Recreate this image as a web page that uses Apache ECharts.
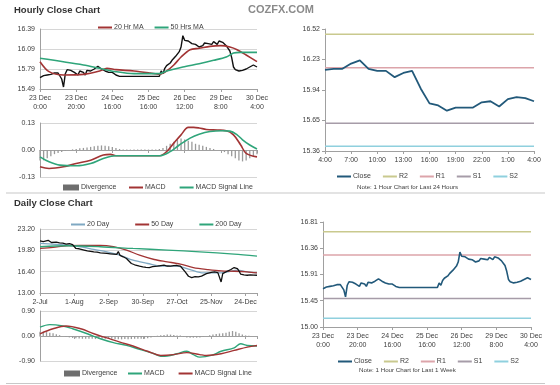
<!DOCTYPE html>
<html><head><meta charset="utf-8">
<script src="https://cdn.jsdelivr.net/npm/echarts@6/dist/echarts.min.js"></script>
<style>html,body{margin:0;padding:0;background:#fff}#c{width:560px;height:385px}</style>
</head><body><div id="c"></div>
<script>
// ---------- tick labels ----------
const hourTicks = ['23 Dec\n0:00','23 Dec\n20:00','24 Dec\n16:00','25 Dec\n16:00','26 Dec\n12:00','29 Dec\n8:00','30 Dec\n4:00'];
const dailyTicks = ['2-Jul','1-Aug','2-Sep','30-Sep','27-Oct','25-Nov','24-Dec'];
const last24Ticks = ['4:00','7:00','10:00','13:00','16:00','19:00','22:00','1:00','4:00'];

// ---------- hourly close (one value per hour, last week) ----------
const hourlyClose = [15.66,15.68,15.69,15.68,15.70,15.69,15.71,15.72,15.73,15.71,
 15.73,15.70,15.64,15.52,15.72,15.78,15.79,15.77,15.76,15.74,
 15.72,15.70,15.76,15.79,15.74,15.70,15.77,15.76,15.76,15.77,
 15.79,15.81,15.83,15.81,15.79,15.77,15.76,15.77,15.74,15.73,
 15.74,15.72,15.70,15.68,15.68,15.68,15.68,15.68,15.68,15.68,
 15.68,15.68,15.68,15.68,15.68,15.68,15.68,15.68,15.68,15.68,
 15.68,15.68,15.68,15.68,15.68,15.68,15.68,15.76,15.72,15.80,
 15.84,15.87,15.88,15.92,15.95,15.98,16.00,16.05,16.12,16.29,
 16.22,16.20,16.21,16.18,16.17,16.15,16.16,16.13,16.12,16.15,
 16.14,16.18,16.19,16.17,16.14,16.16,16.20,16.19,16.16,16.21,
 16.22,16.19,16.17,16.14,16.10,16.06,15.96,15.82,15.78,15.75,
 15.76,15.75,15.77,15.76,15.79,15.77,15.82,15.83,15.85,15.84,15.82];
const ma20Hr = [[0,15.90],[5,15.75],[13,15.70],[24,15.71],[33,15.76],[37,15.80],[42,15.78],[52,15.76],[61,15.73],[66,15.71],[70,15.76],[74,15.85],[78,15.97],[83,16.08],[88,16.10],[94,16.13],[100,16.14],[105,16.12],[109,16.08],[114,16.00],[120,15.90]];
const ma50Hr = [[0,15.95],[24,15.85],[33,15.80],[42,15.75],[52,15.72],[66,15.72],[70,15.76],[79,15.82],[88,15.87],[96,15.92],[103,15.97],[107,16.03],[111,16.04],[120,16.04]];
const macdHourly = [[0,-0.081],[5,-0.089],[13,-0.081],[20,-0.065],[28,-0.049],[35,-0.024],[39,-0.021],[42,-0.028],[66,-0.028],[70,-0.008],[74,0.033],[78,0.073],[82,0.109],[85,0.109],[88,0.106],[92,0.099],[98,0.096],[103,0.093],[107,0.073],[111,0.024],[114,-0.016],[120,-0.033]];
const signalHourly = [[0,-0.033],[5,-0.057],[11,-0.073],[20,-0.076],[28,-0.065],[35,-0.041],[42,-0.028],[66,-0.028],[72,-0.008],[77,0.024],[83,0.057],[88,0.076],[94,0.089],[101,0.093],[105,0.091],[109,0.073],[112,0.049],[116,0.024],[120,0.005]];
// divergence, one bar every 2 hours
const divHourly = [-0.05,-0.05,-0.04,-0.03,-0.02,-0.015,-0.01,-0.005,0,0.003,
 0.005,0.008,0.01,0.012,0.015,0.018,0.02,0.022,0.02,0.018,
 0.015,0.01,0.005,0.002,0.002,0.002,0.002,0.002,0.002,0.002,
 0.002,0.002,0.002,0.005,0.01,0.02,0.03,0.04,0.05,0.055,
 0.05,0.045,0.04,0.03,0.025,0.02,0.015,0.01,0.005,0,
 -0.005,-0.01,-0.02,-0.03,-0.04,-0.05,-0.055,-0.05,-0.04,-0.03,-0.02];

// ---------- daily ----------
const dailyClose = [[0,21.3],[2,21.2],[3,21.25],[5,21.4],[6,21.6],[7,21.05],[10,21.1],[12,21.0],[14,20.95],[16,20.8],[18,20.85],[20,20.7],[22,20.1],[24,20.05],[25,19.94],[27,19.85],[29,19.7],[31,19.65],[33,19.57],[35,19.5],[37,19.4],[39,19.35],[41,19.3],[43,19.25],[45,19.2],[47,19.15],[48,19.6],[49,19.0],[51,18.77],[53,18.5],[54,18.23],[56,17.7],[58,17.5],[59,17.43],[61,17.3],[63,17.17],[65,17.1],[67,17.06],[69,17.2],[72,17.27],[74,17.35],[76,17.43],[78,17.3],[80,17.27],[82,17.35],[84,17.38],[86,17.3],[87,17.27],[89,16.36],[91,15.67],[93,15.46],[95,15.6],[97,15.56],[99,15.7],[100,15.83],[102,16.1],[103,16.2],[105,16.3],[107,16.36],[109,16.25],[110,16.2],[111,14.76],[112,16.1],[113,16.36],[115,16.5],[117,16.74],[119,17.06],[121,16.9],[122,16.5],[123,16.0],[125,15.9],[127,15.83],[129,15.9],[131,15.85],[133,15.83]];
const ma20Day = [[0,20.9],[16,20.64],[25,20.37],[33,19.94],[41,19.57],[49,19.03],[57,18.23],[66,17.7],[74,17.27],[84,17.27],[92,16.74],[100,16.2],[109,16.2],[115,16.36],[121,16.63],[127,16.36],[133,16.2]];
const ma50Day = [[0,20.1],[8,20.26],[16,20.53],[25,20.58],[37,20.58],[45,20.37],[53,19.84],[61,19.03],[70,18.34],[78,17.97],[86,17.6],[94,17.06],[103,16.74],[111,16.53],[119,16.47],[127,16.36],[133,16.2]];
const ma200Day = [[0,20.37],[16,20.53],[37,20.37],[57,20.1],[78,19.84],[98,19.57],[119,19.2],[133,18.87]];
const macdDaily = [[0,0.32],[6,0.41],[14,0.36],[20,0.26],[29,0.08],[37,-0.1],[45,-0.24],[53,-0.34],[61,-0.48],[70,-0.64],[74,-0.73],[78,-0.72],[84,-0.64],[90,-0.55],[94,-0.67],[98,-0.76],[105,-0.70],[111,-0.55],[119,-0.43],[123,-0.28],[127,-0.34],[133,-0.36]];
const signalDaily = [[0,0.08],[8,0.26],[16,0.36],[25,0.26],[33,0.08],[41,-0.07],[49,-0.22],[57,-0.36],[66,-0.55],[74,-0.70],[82,-0.67],[90,-0.6],[98,-0.67],[102,-0.70],[111,-0.64],[119,-0.52],[127,-0.40],[133,-0.34]];
// divergence, one bar every 2 days
const divDaily = [0.15,0.15,0.14,0.12,0.1,0.06,0.03,0,-0.03,-0.05,
 -0.07,-0.08,-0.09,-0.1,-0.1,-0.1,-0.1,-0.11,-0.1,-0.1,
 -0.1,-0.1,-0.1,-0.12,-0.12,-0.12,-0.11,-0.12,-0.11,-0.1,
 -0.1,-0.1,-0.1,-0.08,-0.05,-0.02,0.01,0.03,0.04,0.05,
 0.05,0.04,0.02,0.02,-0.02,-0.05,-0.06,-0.06,-0.06,-0.05,
 -0.02,0,0.03,0.05,0.07,0.09,0.1,0.12,0.15,0.18,
 0.15,0.1,0.05,0.02,0.01,0];

// ---------- last 24 hours ----------
const last24Close = [16.13,16.14,16.14,16.19,16.22,16.14,16.12,16.12,16.06,16.10,
 16.12,15.95,15.81,15.79,15.74,15.77,15.77,15.77,15.82,15.83,15.78,15.85,15.87,15.86,15.83];

// ---------- pivots ----------
const pivotNames = ['R2','R1','S1','S2'];
const pivots24 = [16.47,16.15,15.62,15.40];
const pivotsWeek = [16.64,16.24,15.49,15.15];

// ================= styling / build =================
const FONT = 'Liberation Sans, Arial, sans-serif';
const FS = 7;
const TXT = '#404040';
const AXC = '#a0a0a0';
const pivotColors = ['#c9c98e','#dca4aa','#a69ca8','#8fd0de'];
const RED = '#a23434', GREEN = '#2fa57a', BLUE20 = '#7fa8c2', CLOSE = '#22597a', DIV = '#9a9a9a';
const ZW = '\u200b';

function lbl(extra){ return Object.assign({color:TXT,fontSize:FS,fontFamily:FONT},extra||{}); }
function xAx(g, max, interval, ticks, showLabels, margin){
  return {type:'value', gridIndex:g, min:0, max:max, interval:interval,
    axisLine:{show:true,onZero:true,lineStyle:{color:AXC}},
    axisTick:{show:true,length:3,lineStyle:{color:AXC}},
    splitLine:{show:false},
    axisLabel:{show:showLabels, margin:margin||4, lineHeight:9, hideOverlap:false, showMaxLabel:true, showMinLabel:true,
      color:TXT,fontSize:FS,fontFamily:FONT,
      formatter:function(v){ const k=Math.round(v/interval); return (Math.abs(v-k*interval)<1e-6 && ticks[k]!==undefined)?ticks[k]:''; }}};
}
function yAx(g, min, max, interval, grid){
  return {type:'value', gridIndex:g, min:min, max:max, interval:interval,
    axisLine:{show:true,lineStyle:{color:AXC}},
    axisTick:{show:!grid,length:3,lineStyle:{color:AXC}},
    splitLine:{show:!!grid,lineStyle:{color:'#d6d6d6',width:1}},
    axisLabel:lbl({margin:5,formatter:function(v){return (v+(v>=0?1e-9:-1e-9)).toFixed(2).replace('-0.00','0.00');}})};
}
function line(name,x,data,color,width,extra){
  return Object.assign({name:name,type:'line',xAxisIndex:x,yAxisIndex:x,data:data,symbol:'none',
    lineStyle:{color:color,width:width},itemStyle:{color:color},animation:false},extra||{});
}
function bars(name,x,vals,step){
  return {name:name,type:'bar',xAxisIndex:x,yAxisIndex:x,data:vals.map((v,i)=>[i*step,v]),
    barWidth:1.3,itemStyle:{color:DIV},animation:false};
}
function pivotSeries(x, vals, xmax, suffix){
  return pivotNames.map((n,i)=>line(n+suffix,x,[[0,vals[i]],[xmax,vals[i]]],pivotColors[i],1.5,{
    z:1,label:{show:true,position:'top',align:'right',distance:3,color:TXT,fontSize:FS,fontFamily:FONT,
      formatter:function(p){return p.dataIndex===1?vals[i].toFixed(2):'';}}}));
}
const legendBase = {icon:'rect',itemWidth:14,itemHeight:2,itemGap:12,
  textStyle:{color:TXT,fontSize:FS,fontFamily:FONT,padding:[0,0,0,-3]},
  formatter:function(n){return n.replace(/\u200b/g,'');}, selectedMode:false};
function leg(extra){ return Object.assign({},legendBase,extra); }
function divLeg(name, left, top){
  return leg({data:[{name:name,itemStyle:{color:'#6e6e6e'}}],left:left,top:top,itemWidth:16,itemHeight:6});
}

const series = [
  line('hourClose',0,hourlyClose.map((v,i)=>[i,v]),'#111',1.4,{z:3}),
  line('20 Hr MA',0,ma20Hr,RED,1.6,{smooth:0.3,z:4}),
  line('50 Hrs MA',0,ma50Hr,GREEN,1.6,{smooth:0.3,z:4}),

  bars('Divergence',1,divHourly,2),
  line('MACD',1,macdHourly,RED,1.6,{smooth:0.35}),
  line('MACD Signal Line',1,signalHourly,GREEN,1.6,{smooth:0.35}),

  line('dayClose',2,dailyClose,'#111',1.3,{z:3}),
  line('20 Day',2,ma20Day,BLUE20,1.3,{smooth:0.3,z:2}),
  line('50 Day',2,ma50Day,RED,1.3,{smooth:0.3,z:2}),
  line('200 Day',2,ma200Day,GREEN,1.3,{smooth:0.3,z:2}),

  bars('Divergence'+ZW,3,divDaily,2),
  line('MACD'+ZW,3,macdDaily,GREEN,1.4,{smooth:0.35}),
  line('MACD Signal Line'+ZW,3,signalDaily,RED,1.4,{smooth:0.35}),

  line('Close',4,last24Close.map((v,i)=>[i,v]),CLOSE,1.8,{z:5}),
  ...pivotSeries(4,pivots24,24,''),

  line('Close'+ZW,5,hourlyClose.map((v,i)=>[i,v]),CLOSE,1.6,{z:5}),
  ...pivotSeries(5,pivotsWeek,120,ZW)
];

const option = {
  animation:false,
  backgroundColor:'#fff',
  grid:[
    {left:40,top:29,width:217,height:60},
    {left:40,top:123,width:217,height:54},
    {left:40,top:229,width:217,height:64},
    {left:40,top:311,width:217,height:50},
    {left:325,top:29,width:209,height:122},
    {left:323,top:222,width:208,height:105}
  ],
  xAxis:[
    xAx(0,120,20,hourTicks,true,5),
    xAx(1,120,20,hourTicks,false),
    xAx(2,133,21,dailyTicks,true,5),
    xAx(3,133,21,dailyTicks,false),
    xAx(4,24,3,last24Ticks,true,5),
    xAx(5,120,20,hourTicks,true,5)
  ],
  yAxis:[
    yAx(0,15.49,16.39,0.3,true),
    yAx(1,-0.13,0.13,0.13,true),
    yAx(2,13,23.2,3.4,true),
    yAx(3,-0.9,0.9,0.9,true),
    yAx(4,15.355,16.52,0.29125,false),
    yAx(5,15.0,16.81,0.4525,false)
  ],
  legend:[
    leg({data:['20 Hr MA','50 Hrs MA'],left:93,top:19,itemGap:11}),
    divLeg('Divergence',58,179),
    leg({data:['MACD','MACD Signal Line'],left:124,top:179,itemGap:14}),
    leg({data:['20 Day','50 Day','200 Day'],left:66,top:216,itemGap:26}),
    divLeg('Divergence'+ZW,59,365),
    leg({data:['MACD'+ZW,'MACD Signal Line'+ZW],left:123,top:365,itemGap:14}),
    leg({data:['Close','R2','R1','S1','S2'],left:332,top:168}),
    leg({data:['Close'+ZW,'R2'+ZW,'R1'+ZW,'S1'+ZW,'S2'+ZW],left:333,top:353})
  ],
  graphic:[
    {type:'text',left:14,top:5,style:{text:'Hourly Close Chart',fill:'#333',font:'bold 9.5px '+FONT}},
    {type:'text',left:14,top:198,style:{text:'Daily Close Chart',fill:'#333',font:'bold 9.5px '+FONT}},
    {type:'text',left:248,top:4,style:{text:'COZFX.COM',fill:'#8a8a8a',font:'bold 11px '+FONT}},
    {type:'text',left:357,top:184,style:{text:'Note: 1 Hour Chart for Last 24 Hours',fill:TXT,font:'6.2px '+FONT}},
    {type:'text',left:359,top:367,style:{text:'Note: 1 Hour Chart for Last 1 Week',fill:TXT,font:'6.2px '+FONT}},
    {type:'line',shape:{x1:6,y1:193,x2:545,y2:193},style:{stroke:'#c8c8c8',lineWidth:1.2}},
    {type:'line',shape:{x1:6,y1:383.5,x2:545,y2:383.5},style:{stroke:'#c8c8c8',lineWidth:1.2}}
  ],
  series:series
};
const chart = echarts.init(document.getElementById('c'),null,{renderer:'canvas'});
chart.setOption(option);
</script></body></html>
